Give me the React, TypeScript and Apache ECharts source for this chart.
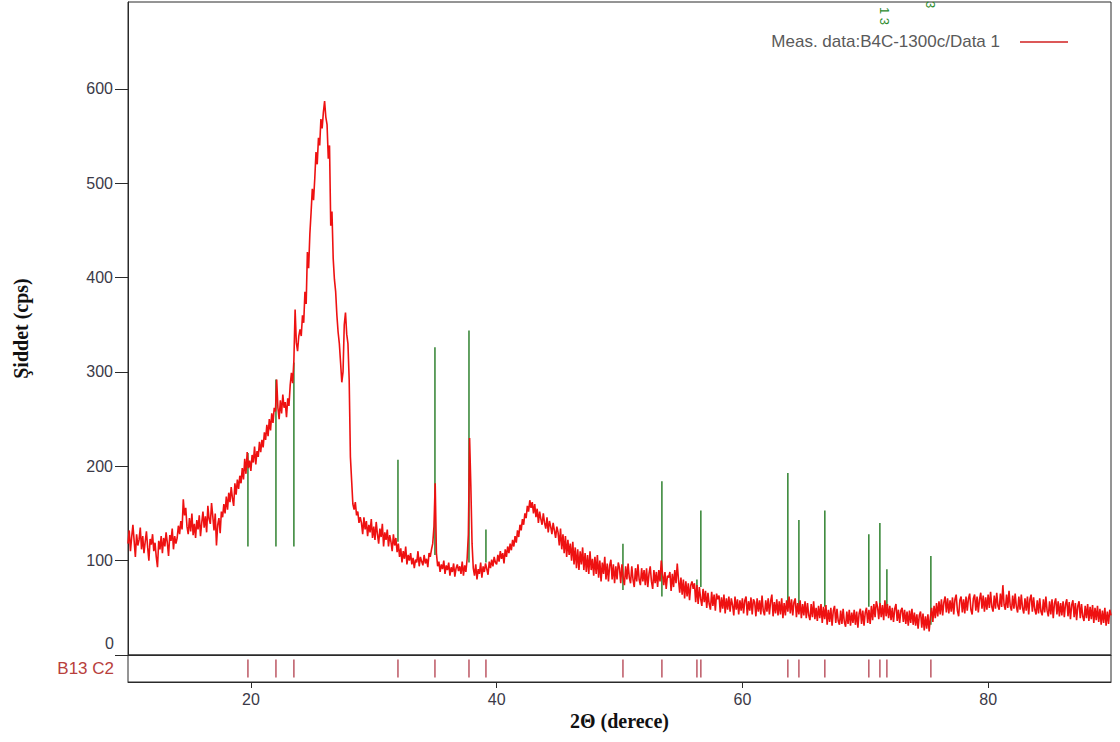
import React, { useEffect, useRef } from "react";
import * as echarts from "echarts";

// 2θ grid of the measured pattern (degrees)
const START = 10;
const STEP = 0.1;

// Measured intensity (cps), one value every 0.1° from 10° to 90° (one row per degree)
const INTENSITY = [
  118, 132, 110, 125, 138, 121, 104, 128, 116, 122,
  135, 112, 126, 108, 120, 131, 114, 100, 123, 117,
  128, 110, 119, 104, 93, 121, 112, 126, 108, 124,
  115, 130, 119, 105, 127, 121, 134, 112, 126, 118,
  124, 137, 128, 142, 133, 165, 148, 156, 136, 128,
  145, 131, 150, 127, 139, 124, 143, 133, 148, 126,
  140, 152, 135, 147, 130, 158, 144, 139, 161, 147,
  132, 150, 116, 138, 145, 129, 152, 146, 160, 150,
  168, 154, 172, 162, 178, 166, 158, 182, 170, 186,
  176, 190, 182, 198, 186, 208, 192, 215, 198, 206,
  195, 212, 204, 221, 202, 216, 210, 226, 215, 228,
  220, 236, 228, 244, 232, 250, 238, 256, 246, 262,
  258, 292, 262, 250, 270, 256, 276, 262, 268, 252,
  272, 264, 286, 299, 288, 312, 366, 331, 322, 338,
  345, 338, 360, 352, 385, 372, 427, 410, 446, 469,
  494, 482, 505, 533, 520, 548, 540, 568, 558, 575,
  587, 570, 562, 526, 540, 455, 470, 420, 398, 385,
  360, 342, 330, 310, 289, 300, 350, 363, 340, 330,
  292, 210, 185, 160, 154, 162, 148, 152, 140, 146,
  140, 128, 146, 133, 142, 126, 138, 130, 144, 124,
  136, 122, 141, 128, 118, 134, 125, 139, 115, 130,
  122, 133, 115, 127, 120, 110, 128, 116, 124, 109,
  118, 104, 113, 98, 110, 102, 115, 96, 106, 100,
  108, 96, 103, 92, 101, 98, 110, 94, 104, 99,
  95, 106, 97, 102, 93, 108, 104, 112, 118, 136,
  182, 108, 94, 99, 88, 96, 91, 100, 86, 95,
  90, 98, 84, 93, 88, 97, 83, 92, 96, 89,
  94, 86, 99, 84, 95, 88, 102, 128, 230, 180,
  118, 92, 84, 96, 80, 91, 86, 98, 82, 94,
  88, 97, 91, 85, 99, 92, 101, 94, 104, 98,
  96, 106, 99, 110, 102, 108, 97, 112, 104, 115,
  108, 118, 111, 122, 115, 126, 119, 132, 125, 138,
  132, 144, 138, 150, 145, 158, 152, 164, 156, 162,
  150, 160, 146, 155, 140, 152, 144, 138, 150, 140,
  134, 146, 130, 142, 136, 128, 140, 132, 124, 136,
  130, 116, 134, 112, 128, 108, 126, 104, 122, 106,
  118, 100, 120, 96, 114, 92, 112, 90, 110, 96,
  114, 90, 108, 88, 106, 86, 110, 90, 102, 84,
  104, 86, 106, 82, 100, 78, 98, 86, 104, 80,
  97, 78, 95, 101, 80, 96, 76, 94, 80, 98,
  92, 76, 96, 82, 74, 94, 80, 97, 82, 76,
  94, 80, 72, 92, 78, 96, 80, 74, 92, 78,
  90, 74, 92, 72, 86, 94, 78, 70, 90, 76,
  88, 72, 90, 78, 100, 86, 74, 88, 70, 84,
  82, 88, 68, 86, 72, 90, 76, 97, 80, 66,
  82, 64, 80, 60, 78, 62, 76, 58, 74, 78,
  70, 76, 56, 74, 54, 72, 60, 52, 70, 56,
  68, 50, 66, 54, 48, 67, 52, 64, 47, 65,
  59, 63, 45, 61, 49, 64, 44, 60, 48, 62,
  46, 60, 53, 42, 62, 48, 59, 43, 58, 47,
  60, 44, 58, 62, 42, 57, 47, 61, 43, 59,
  56, 41, 60, 46, 58, 43, 63, 47, 42, 58,
  46, 60, 43, 57, 64, 41, 56, 44, 59, 42,
  57, 43, 60, 39, 55, 42, 58, 46, 62, 44,
  59, 42, 56, 60, 40, 55, 43, 58, 39, 54,
  42, 57, 39, 55, 42, 37, 54, 40, 57, 38,
  50, 36, 52, 39, 54, 34, 51, 38, 53, 32,
  48, 35, 50, 31, 47, 52, 34, 49, 36, 32,
  47, 33, 49, 35, 30, 46, 33, 48, 31, 45,
  34, 48, 32, 46, 29, 44, 49, 33, 47, 31,
  45, 50, 34, 48, 33, 52, 37, 54, 40, 57,
  51, 38, 55, 40, 53, 37, 58, 41, 54, 39,
  52, 37, 50, 35, 49, 54, 36, 48, 34, 47,
  50, 35, 48, 33, 46, 31, 47, 34, 49, 32,
  45, 31, 43, 28, 42, 46, 29, 44, 26, 41,
  28, 43, 25, 40, 50, 35, 52, 39, 55, 41,
  57, 43, 59, 42, 56, 62, 45, 60, 44, 58,
  46, 61, 43, 59, 64, 47, 41, 58, 62, 45,
  59, 44, 62, 47, 60, 65, 48, 43, 60, 64,
  47, 62, 45, 59, 66, 49, 63, 46, 61, 48,
  64, 50, 67, 51, 46, 63, 49, 66, 52, 48,
  65, 51, 74, 53, 48, 64, 50, 68, 52, 47,
  63, 49, 65, 51, 45, 62, 48, 64, 50, 44,
  60, 47, 62, 43, 59, 64, 46, 61, 48, 43,
  58, 44, 60, 46, 42, 59, 45, 62, 47, 41,
  57, 43, 59, 39, 55, 60, 43, 57, 41, 55,
  42, 57, 40, 54, 59, 41, 56, 38, 53, 58,
  40, 55, 37, 52, 57, 39, 54, 41, 36, 52,
  39, 54, 36, 51, 38, 53, 34, 50, 37, 52,
  35, 49, 32, 47, 34, 50, 31, 46, 33, 48,
  42,
];

// Reference phase (B13 C2) peak positions, 2θ
const PEAK_POS = [19.76, 22.04, 23.5, 31.97, 34.98, 37.75, 39.13, 50.28, 53.45, 56.3, 56.62, 63.7, 64.6, 66.71, 70.29, 71.19, 71.76, 75.34];
// Stick tops and bases (cps)
const STICK_TOP = [214, 292, 310, 207, 326, 344, 133, 118, 184, 80, 153, 193, 143, 153, 128, 140, 91, 105];
const STICK_BASE = [115, 115, 115, 120, 106, 98, 98, 69, 62, 66, 72, 51, 51, 51, 51, 51, 51, 32];

const X_TICKS = [20, 40, 60, 80];
const Y_TICKS = [0, 100, 200, 300, 400, 500, 600];
const Y_LABELS = [100, 200, 300, 400, 500, 600];

const SERIES_NAME = "Meas. data:B4C-1300c/Data 1";
const PHASE_NAME = "B13 C2";

export default function App() {
  const ref = useRef<HTMLDivElement>(null);
  useEffect(() => {
    const chart = echarts.init(ref.current as HTMLDivElement, null, { renderer: "svg" });
    const measured = INTENSITY.map((v, i) => [Math.round((START + i * STEP) * 100) / 100, v]);
    const sticks = PEAK_POS.map((p, i) => [p, STICK_BASE[i], STICK_TOP[i]]);
    const phase = PEAK_POS.map((p) => [p, 0.5]);
    const labelColor = "#3b3a48";
    const frame = "#2a2a2a";
    const sans = "'Liberation Sans', Arial, sans-serif";
    const serif = "'Liberation Serif', 'Times New Roman', serif";

    chart.setOption({
      animation: false,
      backgroundColor: "#ffffff",
      textStyle: { fontFamily: sans },
      grid: [
        { left: 128, right: 9, top: 2, height: 653, show: true, borderColor: frame, borderWidth: 1, backgroundColor: "transparent" },
        { left: 128, right: 9, top: 655, height: 27, show: true, borderColor: frame, borderWidth: 1, backgroundColor: "transparent" },
      ],
      xAxis: [
        {
          gridIndex: 0, type: "value", min: 10, max: 90,
          axisLine: { show: true, onZero: false, lineStyle: { color: frame, width: 1 } },
          axisTick: { show: false }, axisLabel: { show: false }, splitLine: { show: false },
        },
        {
          gridIndex: 1, type: "value", min: 10, max: 90,
          axisLine: { show: true, onZero: false, lineStyle: { color: frame, width: 1 } },
          axisTick: { show: true, customValues: X_TICKS, length: 6, lineStyle: { color: frame } },
          axisLabel: { show: true, customValues: X_TICKS, fontSize: 16, color: labelColor, margin: 9 },
          splitLine: { show: false },
          name: "2Θ (derece)", nameLocation: "middle", nameGap: 29,
          nameTextStyle: { fontFamily: serif, fontWeight: "bold", fontSize: 20, color: "#111" },
        },
      ],
      yAxis: [
        {
          gridIndex: 0, type: "value", min: 0, max: 692,
          axisLine: { show: true, lineStyle: { color: frame, width: 1 } },
          axisTick: { show: true, customValues: Y_TICKS, length: 13, lineStyle: { color: frame } },
          axisLabel: { show: true, customValues: Y_LABELS, fontSize: 16, color: labelColor, margin: 15 },
          splitLine: { show: false },
          name: "Şiddet (cps)", nameLocation: "middle", nameGap: 97, nameRotate: 90,
          nameTextStyle: { fontFamily: serif, fontWeight: "bold", fontSize: 20, color: "#111" },
        },
        { gridIndex: 1, type: "value", min: 0, max: 1, show: false },
      ],
      series: [
        {
          type: "custom", name: PHASE_NAME + " sticks", xAxisIndex: 0, yAxisIndex: 0,
          data: sticks, encode: { x: 0, y: [1, 2] }, silent: true, z: 2,
          renderItem: (_p: any, api: any) => {
            const b = api.coord([api.value(0), api.value(1)]);
            const t = api.coord([api.value(0), api.value(2)]);
            return {
              type: "line",
              shape: { x1: b[0], y1: b[1], x2: t[0], y2: t[1] },
              style: { stroke: "#3d8a3d", lineWidth: 1.6 },
            };
          },
        },
        {
          type: "line", name: SERIES_NAME, xAxisIndex: 0, yAxisIndex: 0,
          data: measured, showSymbol: false, symbol: "none", z: 3,
          lineStyle: { color: "#ee1111", width: 1.6 }, itemStyle: { color: "#ee1111" },
        },
        {
          type: "scatter", name: PHASE_NAME, xAxisIndex: 1, yAxisIndex: 1,
          data: phase, symbol: "rect", symbolSize: [1.6, 18], silent: true,
          itemStyle: { color: "#b03a48" },
        },
      ],
      graphic: [
        { type: "text", x: 114, y: 643, style: { text: "0", fontSize: 16, fill: labelColor, textAlign: "right", textVerticalAlign: "middle", fontFamily: sans } },
        { type: "text", x: 114, y: 668, style: { text: PHASE_NAME, fontSize: 17, fill: "#b8403c", textAlign: "right", textVerticalAlign: "middle", fontFamily: sans } },
        { type: "text", x: 1000, y: 41, style: { text: SERIES_NAME, fontSize: 17, fill: "#5a5a5a", textAlign: "right", textVerticalAlign: "middle", fontFamily: sans } },
        { type: "line", shape: { x1: 1020, y1: 42, x2: 1068, y2: 42 }, style: { stroke: "#d02020", lineWidth: 1.5 } },
        { type: "text", x: 884, y: 7, rotation: -Math.PI / 2, style: { text: "1 3", fontSize: 13, fill: "#2a8a2a", textAlign: "left", textVerticalAlign: "middle", fontFamily: sans } },
        { type: "text", x: 930, y: 1, rotation: -Math.PI / 2, style: { text: "3", fontSize: 13, fill: "#2a8a2a", textAlign: "left", textVerticalAlign: "middle", fontFamily: sans } },
      ],
    });
    return () => chart.dispose();
  }, []);
  return <div ref={ref} style={{ position: "fixed", left: 0, top: 0, width: 1120, height: 742 }} />;
}
